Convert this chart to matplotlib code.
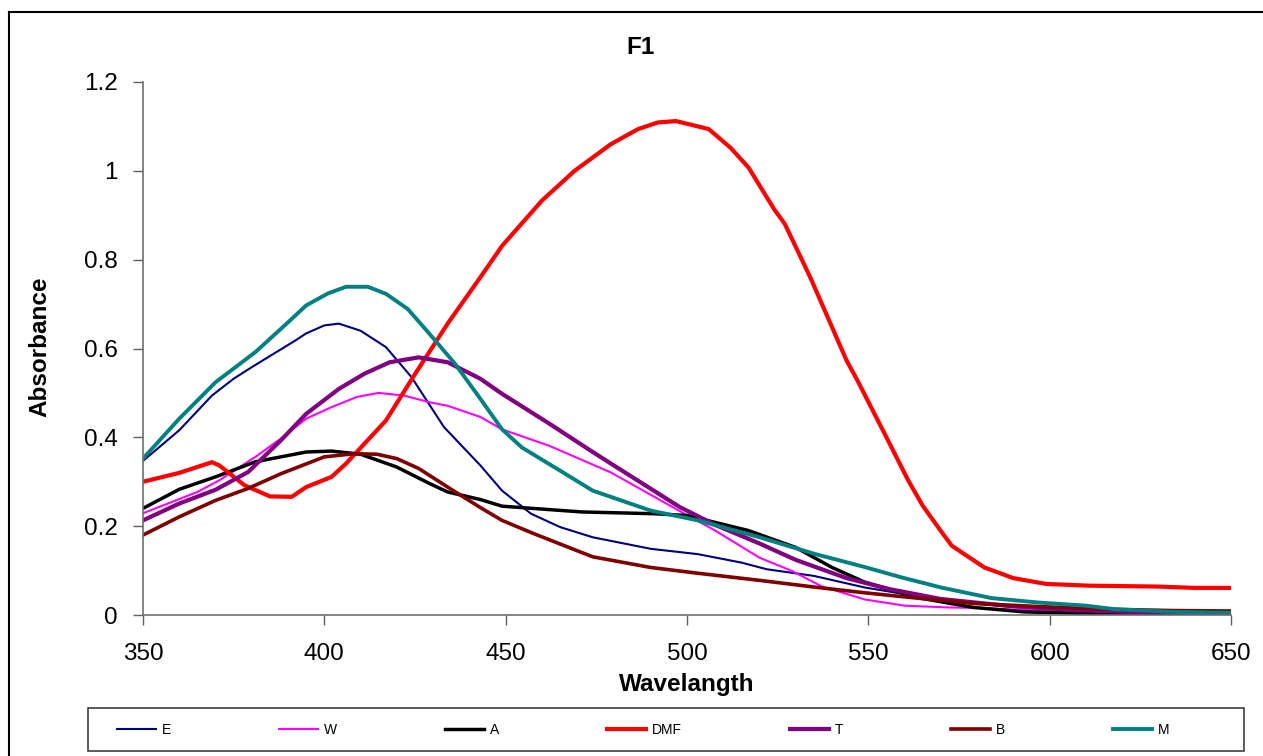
import matplotlib
matplotlib.use("Agg")
import matplotlib.pyplot as plt
from matplotlib.patches import Rectangle
from matplotlib.lines import Line2D

plt.rcParams['font.family'] = ['Liberation Sans', 'DejaVu Sans']

# absorbance spectra, one (wavelength, value) pair of lists per solvent
e_x = [350, 360, 369, 375, 380, 386, 392, 395, 400, 404, 410, 417, 424, 433, 443, 449, 457, 465,
       474, 490, 503, 515, 522, 535, 549, 563, 572, 590, 610, 650]
e_y = [0.347, 0.416, 0.494, 0.532, 0.558, 0.588, 0.618, 0.634, 0.652, 0.656, 0.640, 0.603, 0.536,
       0.423, 0.337, 0.280, 0.228, 0.198, 0.175, 0.149, 0.137, 0.118, 0.103, 0.088, 0.062, 0.043,
       0.032, 0.018, 0.008, 0.004]

w_x = [350, 365, 371, 381, 388, 395, 402, 409, 415, 422, 429, 434, 443, 449, 462, 479, 498, 508,
       520, 529, 537, 549, 560, 572, 580, 597, 650]
w_y = [0.229, 0.277, 0.303, 0.356, 0.397, 0.442, 0.468, 0.491, 0.500, 0.494, 0.479, 0.471, 0.446,
       0.418, 0.381, 0.321, 0.234, 0.189, 0.129, 0.099, 0.065, 0.035, 0.021, 0.017, 0.016, 0.010,
       0.004]

a_x = [350, 360, 370, 381, 388, 395, 402, 410, 420, 429, 434, 443, 449, 471, 491, 500, 517, 530,
       540, 549, 563, 572, 579, 593, 607, 650]
a_y = [0.240, 0.283, 0.311, 0.345, 0.356, 0.367, 0.369, 0.362, 0.333, 0.296, 0.277, 0.260, 0.245,
       0.232, 0.228, 0.224, 0.190, 0.152, 0.107, 0.074, 0.040, 0.027, 0.017, 0.007, 0.004, 0.003]

dmf_x = [350, 360, 369, 371, 378, 385, 391, 395, 402, 406, 417, 424.5, 434, 443, 449, 460, 469,
         479, 486.5, 492, 497, 506, 512, 517, 524, 527, 534, 544, 547, 554, 561, 565, 570, 573,
         582, 590, 599, 611, 630, 640, 650]
dmf_y = [0.300, 0.320, 0.344, 0.337, 0.292, 0.267, 0.266, 0.288, 0.311, 0.341, 0.438, 0.536, 0.656,
         0.760, 0.831, 0.933, 1.000, 1.060, 1.094, 1.109, 1.112, 1.094, 1.052, 1.007, 0.914, 0.880,
         0.760, 0.573, 0.528, 0.416, 0.303, 0.246, 0.189, 0.156, 0.107, 0.083, 0.070, 0.066, 0.064,
         0.061, 0.061]

t_x = [350, 360, 370, 379, 388, 395, 404, 411, 418, 426, 434, 443, 449, 462, 474, 479, 498, 508,
       520, 530, 544, 556, 570, 588, 607, 625, 650]
t_y = [0.213, 0.251, 0.282, 0.322, 0.393, 0.453, 0.509, 0.543, 0.569, 0.580, 0.569, 0.532, 0.498,
       0.431, 0.367, 0.341, 0.243, 0.202, 0.161, 0.124, 0.083, 0.058, 0.036, 0.021, 0.011, 0.006,
       0.004]

b_x = [350, 360, 370, 379, 388, 400, 408, 414.5, 420, 426, 434, 443, 449, 457.5, 474, 490, 503,
       520, 535, 549, 561, 579, 597, 616, 634, 650]
b_y = [0.180, 0.221, 0.258, 0.285, 0.318, 0.356, 0.363, 0.362, 0.352, 0.330, 0.288, 0.242, 0.213,
       0.184, 0.131, 0.107, 0.094, 0.078, 0.063, 0.050, 0.040, 0.026, 0.019, 0.013, 0.010, 0.009]

m_x = [350, 360, 370, 381, 390, 395, 401, 406, 412, 417, 423, 429, 436, 443, 449, 454.5, 465, 474,
       490, 503, 520, 535, 549, 559, 570, 584, 597, 610, 618, 634, 650]
m_y = [0.352, 0.442, 0.524, 0.592, 0.659, 0.697, 0.724, 0.739, 0.739, 0.723, 0.689, 0.633, 0.566,
       0.487, 0.418, 0.377, 0.325, 0.280, 0.235, 0.213, 0.175, 0.138, 0.108, 0.085, 0.062, 0.038,
       0.028, 0.021, 0.013, 0.007, 0.005]

labels = ["E", "W", "A", "DMF", "T", "B", "M"]
colors = ["#000080", "#FF00FF", "#000000", "#FF0000", "#800080", "#800000", "#008080"]
widths = [1.5, 1.5, 2.5, 3.0, 3.0, 2.6, 2.8]
series = [(e_x, e_y), (w_x, w_y), (a_x, a_y), (dmf_x, dmf_y), (t_x, t_y), (b_x, b_y), (m_x, m_y)]

W, H = 1263, 756
fig = plt.figure(figsize=(W / 100, H / 100), dpi=100)
ax = fig.add_axes([143 / W, 1 - 615 / H, (1231 - 143) / W, (615 - 82) / H])

handles = []
for (xs, ys), lab, c, lw in zip(series, labels, colors, widths):
    ln, = ax.plot(xs, ys, color=c, lw=lw, label=lab, solid_joinstyle='round')
    handles.append(ln)

ax.set_xlim(350, 650)
ax.set_ylim(0, 1.2)
ax.set_xticks(range(350, 651, 50))
ax.set_yticks([0, 0.2, 0.4, 0.6, 0.8, 1.0, 1.2])
ax.set_yticklabels(["0", "0.2", "0.4", "0.6", "0.8", "1", "1.2"])

for side in ("top", "right"):
    ax.spines[side].set_visible(False)
for side in ("left", "bottom"):
    ax.spines[side].set_color("#707070")
    ax.spines[side].set_linewidth(1.2)

ax.tick_params(axis='both', direction='out', length=7.2, width=1.0, color="#606060",
               labelsize=17.5)
ax.tick_params(axis='x', pad=13)
ax.tick_params(axis='y', pad=11)

ax.set_xlabel("Wavelangth", fontsize=17.5, fontweight='bold', va='center')
ax.xaxis.set_label_coords(0.5, -(684 - 615) / 533)

fig.text(40 / W, 1 - 347 / H, "Absorbance", rotation=90, fontsize=17.5, fontweight='bold',
         ha='center', va='center')
fig.text(641 / W, 1 - 48 / H, "F1", fontsize=17.5, fontweight='bold', ha='center', va='center')

# legend box along the bottom
fig.add_artist(Rectangle((88 / W, 1 - 751 / H), (1244 - 88) / W, 43 / H,
                         transform=fig.transFigure, fill=False, edgecolor="#404040", lw=1.2))
fig.legend(handles, labels, loc='center', bbox_to_anchor=((88 + 1244) / 2 / W - 0.018, 1 - 729.5 / H),
           ncol=7, frameon=False, fontsize=10, handlelength=2.8, handletextpad=0.4,
           columnspacing=7.8)

# outer chart border
fig.add_artist(Line2D([9 / W, 9 / W], [0, 1 - 12 / H], transform=fig.transFigure,
                      color='black', lw=1.5))
fig.add_artist(Line2D([9 / W, 1], [1 - 12 / H, 1 - 12 / H], transform=fig.transFigure,
                      color='black', lw=1.5))

fig.savefig("out.png", dpi=100)
